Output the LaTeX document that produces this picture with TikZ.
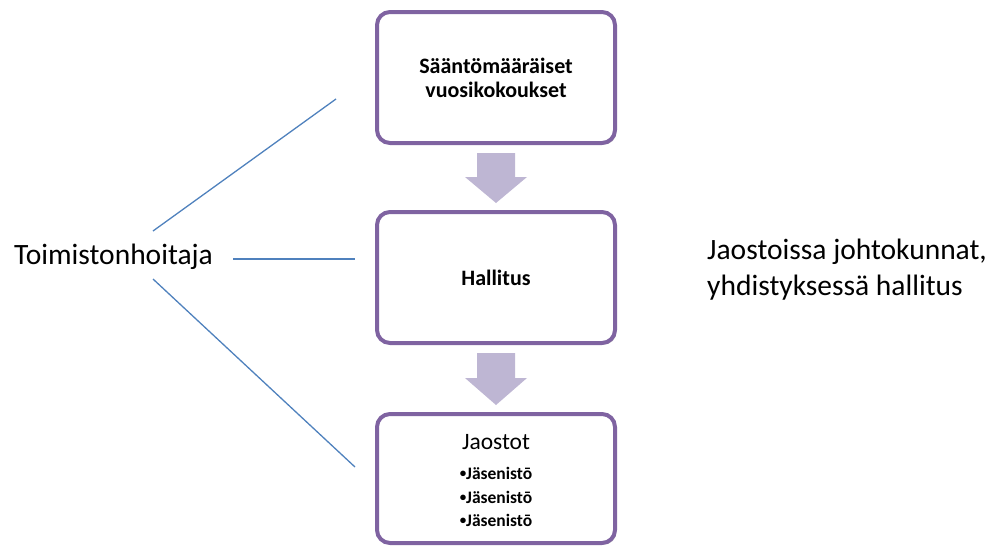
\documentclass[tikz,border=0pt]{standalone}
\usepackage{fontspec}
\setmainfont{Carlito}
\usetikzlibrary{shadows}
\definecolor{boxpurple}{HTML}{7F63A1}
\definecolor{arrowfill}{HTML}{BEB6D3}
\definecolor{linkblue}{HTML}{4F81BD}
\newcommand{\smallbul}{\raisebox{1.8pt}{\fontsize{13}{13}\selectfont •}}
\tikzset{
  orgbox/.style={draw=boxpurple, line width=4pt, fill=white, rounded corners=13pt,
    minimum width=238pt, inner sep=0pt, align=center,
    drop shadow={shadow xshift=1.5pt, shadow yshift=-1.8pt, opacity=0.35, fill=black!60}},
  flowarrow/.style={fill=arrowfill, draw=none},
  link/.style={draw=linkblue, line width=1.3pt},
  bigtext/.style={font=\fontsize{29.5}{36}\selectfont, inner sep=0pt, align=left}
}
\begin{document}
\begin{tikzpicture}[x=1pt,y=-1pt]
\useasboundingbox (0,0) rectangle (999,549);
% boxes
\node[orgbox, minimum height=131pt, font=\bfseries\fontsize{22}{24}\selectfont] (b1) at (496,77.5) {Sääntömääräiset\\vuosikokoukset};
\node[orgbox, minimum height=131pt, font=\bfseries\fontsize{22}{24}\selectfont] (b2) at (496,277.5) {Hallitus};
\node[orgbox, minimum height=129pt] (b3) at (496,478.5) {};
\node[inner sep=0pt, font=\fontsize{23.5}{24}\selectfont] (jaostot) at (496,442) {Jaostot};
\node[inner sep=0pt, align=center, font=\bfseries\fontsize{17.5}{23.5}\selectfont] (lista) at (496,497) {\smallbul Jäsenistō\\\smallbul Jäsenistō\\\smallbul Jäsenistō};
% arrows between boxes
\fill[flowarrow] (477,153) -- (515,153) -- (515,177) -- (527,177) -- (496,203) -- (465,177) -- (477,177) -- cycle;
\fill[flowarrow] (477,353) -- (515,353) -- (515,378) -- (527,378) -- (496,405) -- (465,378) -- (477,378) -- cycle;
% left text and links
\node[bigtext] (toim) at (113.5,257) {Toimistonhoitaja};
\coordinate (s1) at (153,231);
\coordinate (e1) at (336,99);
\coordinate (s2) at (233,259);
\coordinate (e2) at (355,259);
\coordinate (s3) at (153,279);
\coordinate (e3) at (355,467);
\draw[link] (s1) -- (e1);
\draw[link] (s2) -- (e2);
\draw[link] (s3) -- (e3);
% right text
\node[bigtext, anchor=west] (right) at (707,270) {Jaostoissa johtokunnat,\\yhdistyksessä hallitus};
\end{tikzpicture}
\end{document}
